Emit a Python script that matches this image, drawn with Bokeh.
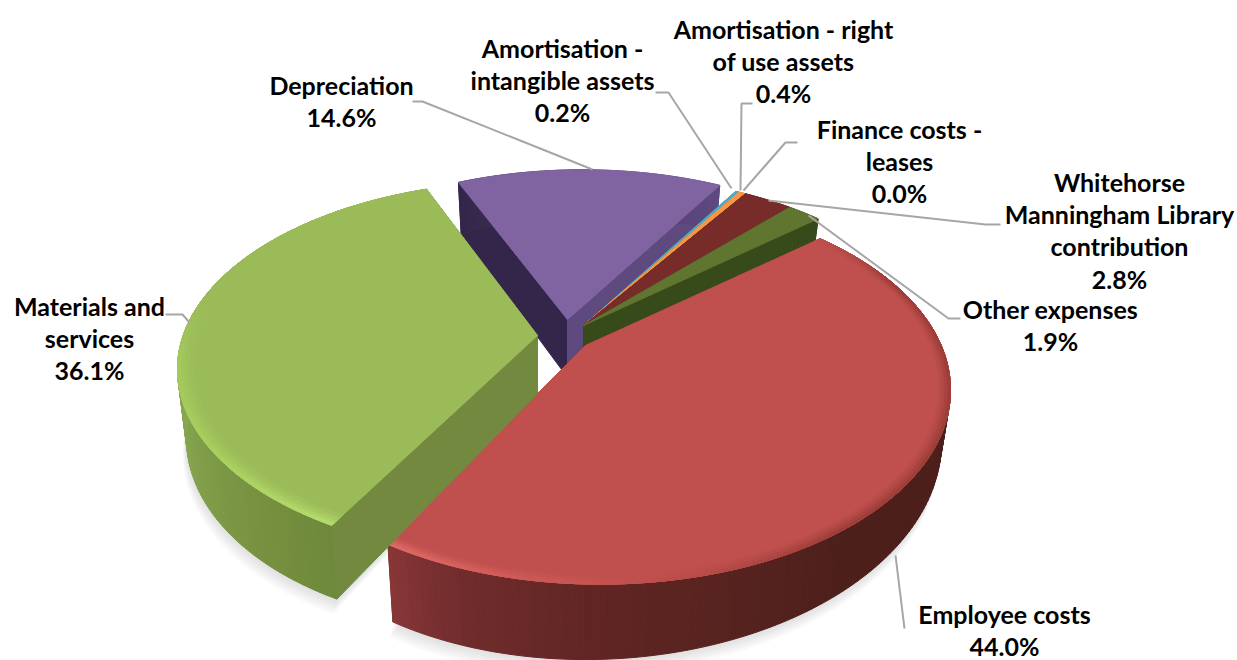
import math
from bokeh.plotting import figure
from bokeh.models import Range1d
from bokeh.core.properties import value
from bokeh.embed import file_html
from bokeh.resources import INLINE

# ---- data ----
categories = ["Depreciation", "Amortisation - intangible assets", "Amortisation - right of use assets",
              "Finance costs - leases", "Whitehorse Manningham Library contribution", "Other expenses",
              "Employee costs", "Materials and services"]
shares = [14.6, 0.2, 0.4, 0.0, 2.8, 1.9, 44.0, 36.1]
label_lines = [["Depreciation"], ["Amortisation -", "intangible assets"], ["Amortisation - right", "of use assets"],
               ["Finance costs -", "leases"], ["Whitehorse", "Manningham Library", "contribution"],
               ["Other expenses"], ["Employee costs"], ["Materials and", "services"]]

# ---- style and layout ----
top_colors = ["#8064a2", "#4bacc6", "#f79646", "#2c4d75", "#772c2a", "#5f7530", "#c0504d", "#9bbb59"]
wall_colors = [("#34264a", "#5f4a80"), ("#357e92", "#357e92"), ("#b86e30", "#b86e30"), ("#1c3350", "#1c3350"),
               ("#561e1c", "#561e1c"), ("#374a1a", "#374a1a"), ("#7d2f2d", "#7d2f2d"), ("#72893f", "#5f7a30")]
side_stops = [[(0, "#34264a"), (1, "#5f4a80")], [(0, "#357e92"), (1, "#357e92")], [(0, "#b86e30"), (1, "#b86e30")],
              [(0, "#1c3350"), (1, "#1c3350")], [(0, "#561e1c"), (1, "#561e1c")], [(0, "#374a1a"), (1, "#374a1a")],
              [(0, "#4c1f1b"), (.58, "#4c1f1b"), (.80, "#5e2522"), (.93, "#702c2c"), (1, "#883636")],
              [(0, "#6f893c"), (.1, "#76903f"), (.3, "#84a34d"), (.5, "#8cad52"), (1, "#8cad52")]]
rim_stops = {6: [(0, "#c0504d"), (.12, "#983b37"), (.6, "#983b37"), (.78, "#c0504d"), (.9, "#d45f5b"), (1, "#e46f6a")],
             7: [(0, "#b8e06e"), (.2, "#aad260"), (.42, "#a4cb5c"), (.55, "#9bbb59"), (1, "#9bbb59")]}
rim_levels = {6: [(.97, .15), (.978, .35), (.986, .6), (.994, .85)],
              7: [(.955, .15), (.968, .35), (.98, .6), (.99, .85)]}
apex = [(567, 319), (583, 325), (583, 325), (583, 325), (583, 325), (583, 325), (585, 345), (537, 335)]
shift_x = [15, 15, 15, 15, 15, 15, 15, -10]
persp = [.229, .229, .229, .229, .229, .229, .229, .18]
ry_full = [184, 184, 184, 184, 184, 184, 184, 182]
turn_start = [2.4, 0, 0, 0, 0, 0, 0, -2.2]
turn_end = [0, 0, 0, 0, 0, 0, -3.6, -3.6]
label_x = [341, 562, 783, 899, 1119, 1050, 1004, 89]
label_y = [84, 47, 28, 128, 181, 308, 613, 305]
LINE_H = 32.4
leaders = [[(412, 101), (422, 101), (592, 169)], [(655, 92), (668, 92), (731, 188)],
           [(752, 103), (741, 103), (740, 190)], [(797, 142), (785, 142), (743, 190)],
           [(1000, 224), (985, 224), (768, 200)], [(960, 318), (948, 318), (808, 215)],
           [(895, 555), (904, 628)], [(165, 314), (182, 314), (189, 322)]]

SEMI_X, DEPTH, SKEW, INSET = 350.0, 58.0, 0.15, 0.025
START_ANGLE = 42 + sum(shares[:6]) * 3.6
W, H = 1237, 660


def project(i, r, t):
    """Top-face point of slice i at radius r, angle t, with the extrusion below it."""
    k = persp[i]
    X, Y = r * math.cos(t), r * math.sin(t)
    w = 1 + k * Y
    x = apex[i][0] + r * shift_x[i] + SEMI_X * math.sqrt(1 - k * k) * X / w
    y = apex[i][1] - ry_full[i] * Y / w
    d = DEPTH / w * (1 - SKEW * X)
    xb = x - (x - apex[i][0]) * INSET
    return x, y, xb, y + d


def hex2rgb(h):
    return tuple(int(h[i:i + 2], 16) for i in (1, 3, 5))


def mix(a, b, f):
    ra, rb = hex2rgb(a), hex2rgb(b)
    return "#%02x%02x%02x" % tuple(round(x + (y - x) * f) for x, y in zip(ra, rb))


def stop_color(stops, f):
    for (f0, c0), (f1, c1) in zip(stops, stops[1:]):
        if f <= f1:
            return mix(c0, c1, (f - f0) / max(f1 - f0, 1e-9))
    return stops[-1][1]


p = figure(width=W, height=H, output_backend="svg", toolbar_location=None,
           x_range=Range1d(0, W), y_range=Range1d(H, 0), min_border=0,
           background_fill_color="white", outline_line_color=None)
p.axis.visible = False
p.grid.visible = False

spans, a = [], START_ANGLE
for i, s in enumerate(shares):
    spans.append((a + turn_start[i], a - s * 3.6 + turn_end[i]))
    a -= s * 3.6


def poly(xs, ys, colors, alpha=1.0, line=True):
    p.patches(xs, ys, fill_color=colors, line_color=colors if line else None,
              line_width=1 if line else 0, fill_alpha=alpha, line_alpha=alpha)


def angles(a0, a1):
    n = max(2, int(abs(a1 - a0)) + 1)
    return [math.radians(a0 + (a1 - a0) * j / n) for j in range(n + 1)]


# soft shadow below the two front slices
for i in (6, 7):
    pts = [project(i, 1, t) for t in angles(*spans[i])]
    for off in (3, 6, 9, 12, 15):
        xs = [apex[i][0]] + [q[2] - off * .25 for q in pts]
        ys = [apex[i][1] + DEPTH] + [q[3] + off for q in pts]
        poly([xs], [ys], ["#808080"], alpha=0.05, line=False)

# slices, back to front
for i, s in enumerate(shares):
    if s <= 0:
        continue
    a0, a1 = spans[i]
    c = apex[i]
    ts = angles(a0, a1)
    walls = [(math.radians(a0), wall_colors[i][0]), (math.radians(a1), wall_colors[i][1])]
    walls.sort(key=lambda e: project(i, 1, e[0])[1])  # the edge nearer the viewer goes last
    for t, col in walls:
        x, y, xb, yb = project(i, 1, t)
        poly([[c[0], x, xb, c[0]]], [[c[1], y, yb, c[1] + DEPTH]], [col])
    sx, sy, sc = [], [], []
    for j in range(len(ts) - 1):
        x0, y0, xb0, yb0 = project(i, 1, ts[j])
        x1, y1, xb1, yb1 = project(i, 1, ts[j + 1])
        sx.append([x0, x1, xb1, xb0])
        sy.append([y0, y1, yb1, yb0])
        sc.append(stop_color(side_stops[i], (j + .5) / (len(ts) - 1)))
    poly(sx, sy, sc)
    pts = [project(i, 1, t) for t in ts]
    poly([[c[0]] + [q[0] for q in pts]], [[c[1]] + [q[1] for q in pts]], [top_colors[i]])
    if i in rim_stops:
        for r0, strength in rim_levels[i]:
            bx, by, bc = [], [], []
            for j in range(len(ts) - 1):
                q0, q1 = project(i, r0, ts[j]), project(i, r0, ts[j + 1])
                q2, q3 = project(i, 1, ts[j + 1]), project(i, 1, ts[j])
                bx.append([q0[0], q1[0], q2[0], q3[0]])
                by.append([q0[1], q1[1], q2[1], q3[1]])
                bc.append(mix(top_colors[i], stop_color(rim_stops[i], (j + .5) / (len(ts) - 1)), strength))
            poly(bx, by, bc)

p.multi_line([[q[0] for q in l] for l in leaders], [[q[1] for q in l] for l in leaders],
             line_color="#a6a6a6", line_width=2)

tx, ty, tt = [], [], []
for i, lines in enumerate(label_lines):
    rows = lines + ["%.1f%%" % shares[i]]
    for n, row in enumerate(rows):
        tx.append(label_x[i])
        ty.append(label_y[i] + n * LINE_H)
        tt.append(row)
p.text(tx, ty, text=tt, text_font=value("Lato"), text_font_style="bold", text_font_size="25px",
       text_color="#000000", text_align="center", text_baseline="middle")

open("out.html", "w").write(file_html(p, INLINE))
